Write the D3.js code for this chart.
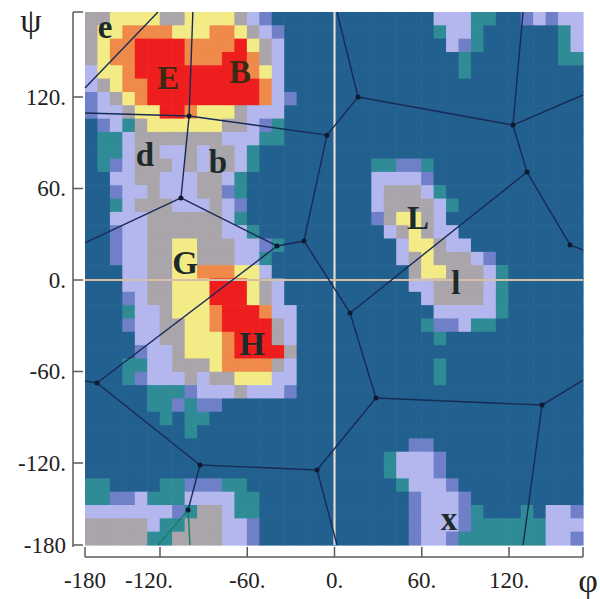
<!DOCTYPE html>
<html>
<head>
<meta charset="utf-8">
<script src="https://cdn.jsdelivr.net/npm/d3@7"></script>
<style>
  body { margin: 0; background: #fff; }
  svg text { font-family: "Liberation Serif", "Times New Roman", serif; }
</style>
</head>
<body>
<div id="chart"></div>
<script>
// axis ticks (degrees) and their printed labels
const phiTicks = [-180, -120, -60, 0, 60, 120, 180];
const phiLabels = ["-180", "-120.", "-60.", "0.", "60.", "120.", ""];
const psiTicks = [-180, -120, -60, 0, 60, 120, 180];
const psiLabels = ["-180", "-120.", "-60.", "0.", "60.", "120.", ""];

// density level per cell, 40 x 40, top row first (psi = +180 at top)
// 0 dark blue .. 7 red
const levelColors = ["#22608f", "#2f8b95", "#6f80c9", "#b3b7ee", "#a9a5aa", "#f3ec86", "#ef8a4a", "#ef1e1e"];
const densityRows = [
  "4455554455554320000000000000333110023233",
  "4556666555665432000000000000133100000013",
  "4566777766667543000000000000032100000013",
  "4566777766677643000000000000001000000011",
  "3556777777777653000000000000001",
  "3456677777777763",
  "23456777777777632",
  "2334557765554333",
  "0231455555544321",
  "0113444444433311",
  "01134433434431",
  "0123444343443100000000011221",
  "0033443334431000000000033332",
  "00233433344210000000000344431",
  "001344433343200000000003444431",
  "00333444444310000000000245543",
  "002334444443310000000000345433",
  "0023344554443321000000000355433",
  "002334455444331000000000034544432",
  "0003344556665530000000000045544431",
  "0003344555777543000000000033444431",
  "0002344555777543000000000003444431",
  "0001334555677763300000000000333331",
  "000233445567777430000000000122311",
  "00003344555677743000000000001",
  "00002334555677774",
  "00011334445666643000000000001",
  "00012333434455533000000000001",
  "00000111233343332",
  "00000112122",
  "0000001011",
  "000000001",
  "0000000000000000000000000022",
  "00000000000000000000000013332",
  "00000000000000000000000013332",
  "110000112221100000000000013332",
  "1122311133331100000000000023332",
  "3333333214431100000000000023332100010332",
  "4444431144433200000000000023332111111333",
  "4444411444433200000000000023321111111332"
];

// Voronoi vertices: id, phi, psi, drawn dot
const nodes = [
  ["V1", -100, 107.5, 1], ["V2", -5.2, 95, 1], ["V3", 16.2, 120, 1], ["V4", 123.2, 101.6, 1],
  ["V5", 134.6, 70.8, 1], ["V6", 169.5, 23, 1], ["V7", 10.7, -21.6, 1], ["V8", 28.5, -77.4, 1],
  ["V9", -105.6, 53.8, 1], ["V10", -170.4, -67.5, 1], ["V11", -92.5, -121.5, 1], ["V12", -12, -125.1, 1],
  ["V13", 146.8, -82, 1], ["V14", -39.5, 22.3, 1], ["V15", -21, 25.6, 1], ["V16", -100.7, -154.4, 1],
  ["E1", -180, 126.4, 0], ["E2", -121.6, 180, 0], ["E3", -97.4, 180, 0], ["E4", -180, 109.5, 0],
  ["E5", 1.7, 180, 0], ["E6", 131.4, 180, 0], ["E7", 180, 121.4, 0], ["E8", 180, 19.7, 0],
  ["E9", -180, 24.3, 0], ["E10", -180, -66.2, 0], ["E11", 1.7, -180, 0], ["E12", 131.4, -180, 0],
  ["E13", 180, -65.6, 0], ["E14", -121.6, -180, 0], ["E15", -99.4, -180, 0]
];
const edges = [
  ["E1", "E2"], ["E3", "V1"], ["E4", "V1"], ["V1", "V2"], ["V1", "V9"], ["V2", "V3"], ["V2", "V15"],
  ["V3", "E5"], ["V3", "V4"], ["V4", "E6"], ["V4", "E7"], ["V4", "V5"], ["V5", "V6"], ["V5", "V7"],
  ["V6", "E8"], ["V9", "E9"], ["V9", "V14"], ["V14", "V15"], ["V14", "V10"], ["V15", "V7"], ["V7", "V8"],
  ["V8", "V12"], ["V8", "V13"], ["V13", "E13"], ["V13", "E12"], ["V12", "E11"], ["V12", "V11"],
  ["V11", "V10"], ["V10", "E10"], ["V11", "V16"]
];
const greenEdges = [["V16", "E14"], ["V16", "E15"]];

// region letters
const regionNames = ["e", "E", "B", "d", "b", "G", "H", "L", "l", "x"];
const regionPhi = [-164, -114.4, -65, -132, -80.1, -102.8, -56.7, 57.4, 83.5, 78.7];
const regionPsi = [169.4, 133.4, 137.6, 82, 77.4, 11.1, -42, 40.7, -2, -161];

const W = 600, H = 599;
const plotL = 85, plotR = 583, plotT = 12, plotB = 545;

const svg = d3.select("#chart").append("svg")
  .attr("width", W).attr("height", H);

// printed ticks are not evenly spread over the frame, so the scale is piecewise
const x = d3.scaleLinear().domain([-180, -120, 120, 180]).range([plotL, 160, 509, plotR]);
const y = d3.scaleLinear().domain([-180, -120, 120, 180]).range([plotB, 463, 97, plotT]);

const nCols = 40, nRows = densityRows.length;
const colBand = d3.scaleBand().domain(d3.range(nCols)).range([plotL, plotR]);
const rowBand = d3.scaleBand().domain(d3.range(nRows)).range([plotT, plotB]);
const color = d3.scaleOrdinal().domain(d3.range(8)).range(levelColors);

const cells = [];
densityRows.forEach(function(row, r) {
  const s = row.padEnd(nCols, "0");
  for (let c = 0; c < nCols; c++) cells.push({r: r, c: c, v: +s[c]});
});

svg.append("g").selectAll("rect")
  .data(cells)
  .enter().append("rect")
  .attr("x", d => colBand(d.c))
  .attr("y", d => rowBand(d.r))
  .attr("width", colBand.bandwidth() + 0.6)
  .attr("height", rowBand.bandwidth() + 0.6)
  .attr("fill", d => color(d.v));

// zero lines
svg.append("line")
  .attr("x1", x(0)).attr("x2", x(0)).attr("y1", plotT).attr("y2", plotB)
  .attr("stroke", "#e6dbd2").attr("stroke-width", 2.2);
svg.append("line")
  .attr("x1", plotL).attr("x2", plotR).attr("y1", y(0)).attr("y2", y(0))
  .attr("stroke", "#d6bfa8").attr("stroke-width", 2.2);

// Voronoi partition
const byId = {};
nodes.forEach(n => byId[n[0]] = n);
function drawEdges(list, stroke) {
  svg.append("g").selectAll("line")
    .data(list)
    .enter().append("line")
    .attr("x1", d => x(byId[d[0]][1])).attr("y1", d => y(byId[d[0]][2]))
    .attr("x2", d => x(byId[d[1]][1])).attr("y2", d => y(byId[d[1]][2]))
    .attr("stroke", stroke).attr("stroke-width", 1.4);
}
drawEdges(edges, "#182a56");
drawEdges(greenEdges, "#17806a");

svg.append("g").selectAll("circle")
  .data(nodes.filter(n => n[3]))
  .enter().append("circle")
  .attr("cx", d => x(d[1])).attr("cy", d => y(d[2]))
  .attr("r", 2.5).attr("fill", "#0e1a30");

// region letters
svg.append("g").selectAll("text")
  .data(regionNames)
  .enter().append("text")
  .attr("x", (d, i) => x(regionPhi[i]))
  .attr("y", (d, i) => y(regionPsi[i]))
  .attr("text-anchor", "middle")
  .attr("dominant-baseline", "central")
  .attr("font-size", 33).attr("font-weight", "bold")
  .attr("fill", (d, i) => (d === "E" || d === "B") ? "#3d2a14" : "#1c2a2a")
  .text(d => d);

// axes
const axisColor = "#5a5a5a";
const yAxisX = 73, xAxisY = 557;

const yAxis = svg.append("g");
yAxis.append("line")
  .attr("x1", yAxisX).attr("x2", yAxisX).attr("y1", plotT).attr("y2", plotB + 2)
  .attr("stroke", axisColor).attr("stroke-width", 1.5);
yAxis.selectAll(".tick")
  .data(psiTicks)
  .enter().append("line")
  .attr("x1", yAxisX).attr("x2", yAxisX + 10)
  .attr("y1", d => y(d)).attr("y2", d => y(d))
  .attr("stroke", axisColor).attr("stroke-width", 1.5);
yAxis.selectAll("text")
  .data(psiTicks)
  .enter().append("text")
  .attr("x", 66).attr("y", d => y(d))
  .attr("text-anchor", "end").attr("dominant-baseline", "central")
  .attr("font-size", 23).attr("fill", "#222")
  .text((d, i) => psiLabels[i]);

const xAxis = svg.append("g");
xAxis.append("line")
  .attr("x1", plotL).attr("x2", plotR).attr("y1", xAxisY).attr("y2", xAxisY)
  .attr("stroke", axisColor).attr("stroke-width", 1.5);
xAxis.selectAll(".tick")
  .data(phiTicks)
  .enter().append("line")
  .attr("x1", d => x(d)).attr("x2", d => x(d))
  .attr("y1", xAxisY).attr("y2", xAxisY - 10)
  .attr("stroke", axisColor).attr("stroke-width", 1.5);
xAxis.selectAll("text")
  .data(phiTicks)
  .enter().append("text")
  .attr("x", d => x(d)).attr("y", 580)
  .attr("dx", d => d === -120 ? -11 : 0)
  .attr("text-anchor", "middle").attr("dominant-baseline", "central")
  .attr("font-size", 23).attr("fill", "#222")
  .text((d, i) => phiLabels[i]);

// angle symbols
svg.append("text")
  .attr("x", 31).attr("y", 20)
  .attr("text-anchor", "middle").attr("dominant-baseline", "central")
  .attr("font-size", 34).attr("fill", "#222")
  .text("\u03C8");
svg.append("text")
  .attr("x", 588).attr("y", 580)
  .attr("text-anchor", "middle").attr("dominant-baseline", "central")
  .attr("font-size", 34).attr("fill", "#222")
  .text("\u03C6");
</script>
</body>
</html>
